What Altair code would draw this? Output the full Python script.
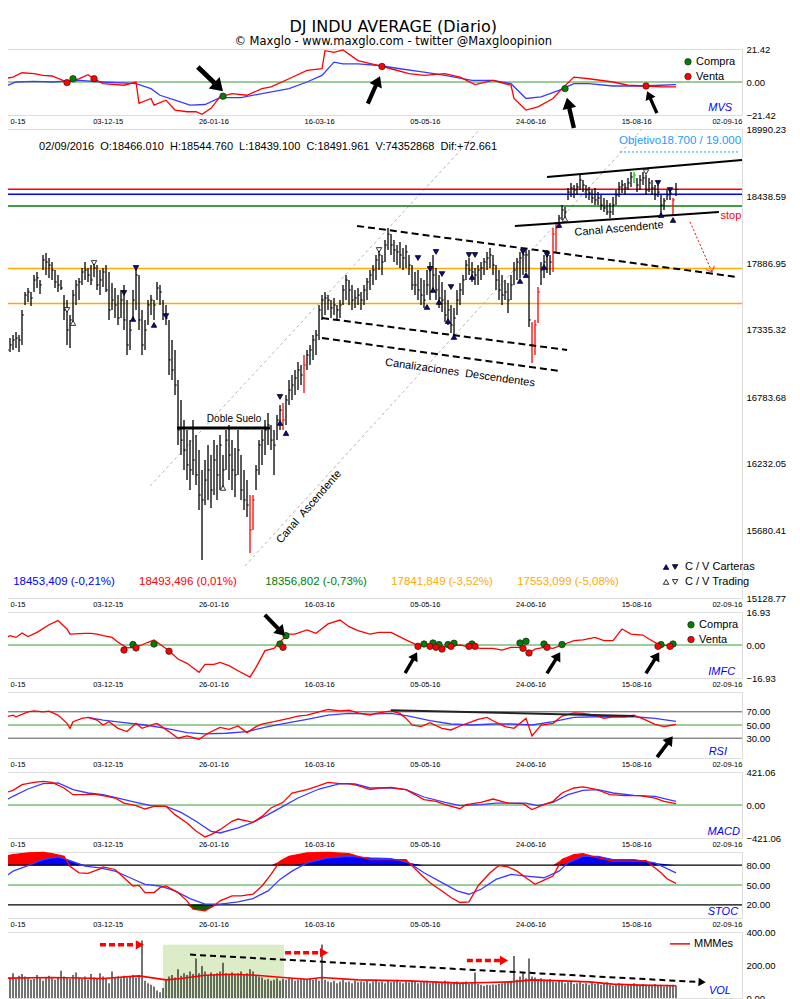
import altair as alt
import pandas as pd

FONT = "Liberation Sans"
TFONT = "DejaVu Sans"

# ---------------- axis labels ----------------
DATE_LABELS = ["0-15", "03-12-15", "26-01-16", "16-03-16", "05-05-16", "24-06-16", "15-08-16", "02-09-16"]
TICK_POS = [2.0, 34.57, 69.8, 105.03, 140.27, 175.5, 210.73, 245.97]
PRICE_TICKS = [15128.77, 15680.41, 16232.05, 16783.68, 17335.32, 17886.95, 18438.59, 18990.23]

# ---------------- daily price bars ----------------
HIGH = [
    17335, 17253, 17269, 17294, 17319, 17294, 17500, 17648, 17681, 17648,
    17788, 17813, 17747, 17953, 17969, 17928, 17895, 17829, 17788, 17747,
    17623, 17582, 17459, 17665, 17747, 17764, 17846, 17895, 17846, 17870,
    17887, 17870, 17829, 17846, 17870, 17813, 17722, 17681, 17623, 17665,
    17706, 17582, 17418, 17665, 17846, 17788, 17500, 17418, 17582, 17623,
    17582, 17731, 17706, 17582, 17541, 17418, 17253, 17171, 16924, 16759,
    16594, 16512, 16429, 16594, 16471, 16347, 16183, 16265, 16388, 16306,
    16429, 16388, 16471, 16306, 16512, 16553, 16429, 16364, 16512, 16306,
    16183, 16100, 15977, 15977, 16224, 16429, 16512, 16594, 16652, 16553,
    16512, 16635, 16718, 16734, 16800, 16924, 16965, 17006, 17072, 17047,
    17129, 17171, 17212, 17294, 17335, 17541, 17623, 17648, 17623, 17582,
    17599, 17541, 17582, 17706, 17788, 17747, 17706, 17665, 17681, 17648,
    17706, 17764, 17829, 17870, 17953, 18010, 17953, 18076, 18175, 18125,
    18076, 18035, 18060, 18010, 18035, 17953, 17870, 17813, 17829, 17764,
    17747, 17829, 17895, 17953, 17846, 17788, 17731, 17665, 17582, 17541,
    17517, 17665, 17722, 17788, 17912, 17928, 17895, 17846, 17870, 17895,
    17928, 17978, 18010, 17953, 17870, 17829, 17788, 17747, 17722, 17788,
    17895, 17928, 17978, 17994, 18010, 17994, 17401, 17418, 17689, 17895,
    17953, 17994, 17953, 18175, 18224, 18282, 18364, 18348, 18505, 18546,
    18529, 18546, 18611, 18570, 18529, 18513, 18488, 18505, 18471, 18447,
    18422, 18406, 18381, 18430, 18488, 18554, 18570, 18546, 18587, 18636,
    18636, 18587, 18611, 18636, 18611, 18587, 18570, 18529, 18529, 18447,
    18422, 18488, 18488, 18422, 18545,
]
LOW = [
    16924, 17006, 17154, 17171, 17187, 17154, 17212, 17541, 17566, 17533,
    17648, 17681, 17632, 17829, 17788, 17764, 17747, 17681, 17648, 17665,
    17418, 17212, 17187, 17377, 17541, 17582, 17706, 17747, 17731, 17706,
    17772, 17665, 17623, 17689, 17648, 17418, 17500, 17434, 17377, 17434,
    17335, 17129, 17171, 17418, 17500, 17335, 17129, 17171, 17377, 17459,
    17418, 17582, 17541, 17418, 17377, 16965, 16924, 16800, 16388, 16306,
    16183, 16100, 16018, 16142, 16059, 15853, 15442, 15894, 15936, 15870,
    15977, 15936, 16018, 16018, 16183, 16100, 16018, 15960, 16142, 15936,
    15853, 15796, 15500, 15689, 16018, 16142, 16224, 16306, 16388, 16347,
    16142, 16429, 16512, 16512, 16553, 16718, 16759, 16800, 16841, 16882,
    16817, 17006, 17047, 17089, 17129, 17253, 17418, 17459, 17500, 17434,
    17459, 17418, 17434, 17541, 17582, 17541, 17500, 17517, 17541, 17500,
    17541, 17582, 17665, 17706, 17747, 17829, 17788, 17895, 17994, 17953,
    17895, 17870, 17846, 17829, 17846, 17788, 17665, 17623, 17582, 17541,
    17517, 17623, 17582, 17665, 17582, 17517, 17484, 17401, 17377, 17311,
    17278, 17459, 17541, 17623, 17747, 17788, 17731, 17706, 17706, 17747,
    17788, 17829, 17846, 17788, 17665, 17582, 17541, 17582, 17475, 17582,
    17706, 17747, 17764, 17788, 17813, 17360, 17064, 17129, 17393, 17706,
    17764, 17805, 17788, 17813, 17978, 18175, 18241, 18241, 18406, 18430,
    18422, 18447, 18488, 18471, 18422, 18406, 18381, 18364, 18364, 18323,
    18307, 18282, 18257, 18282, 18364, 18430, 18463, 18447, 18488, 18513,
    18546, 18471, 18488, 18529, 18447, 18471, 18447, 18406, 18430, 18282,
    18323, 18406, 18406, 18282, 18439,
]
CLOSE = [
    17047, 17171, 17212, 17253, 17269, 17253, 17459, 17623, 17648, 17599,
    17747, 17764, 17706, 17912, 17895, 17870, 17829, 17731, 17706, 17681,
    17500, 17335, 17418, 17623, 17706, 17731, 17813, 17829, 17788, 17747,
    17846, 17706, 17747, 17813, 17665, 17500, 17582, 17541, 17434, 17582,
    17418, 17212, 17335, 17582, 17788, 17418, 17212, 17335, 17541, 17582,
    17541, 17681, 17648, 17459, 17434, 17089, 17006, 16882, 16512, 16429,
    16347, 16224, 16183, 16265, 16142, 15977, 15936, 16100, 16183, 16018,
    16265, 16142, 16388, 16183, 16429, 16306, 16183, 16142, 16347, 16018,
    15936, 15894, 15689, 15936, 16183, 16388, 16429, 16512, 16553, 16429,
    16388, 16594, 16676, 16594, 16759, 16841, 16882, 16940, 17006, 16965,
    17047, 17129, 17171, 17253, 17294, 17500, 17582, 17599, 17582, 17517,
    17541, 17500, 17541, 17665, 17747, 17665, 17582, 17599, 17623, 17582,
    17665, 17731, 17788, 17829, 17912, 17953, 17895, 18035, 18125, 18035,
    17994, 17978, 17953, 17928, 17978, 17870, 17706, 17706, 17665, 17623,
    17582, 17706, 17829, 17788, 17665, 17599, 17582, 17459, 17500, 17377,
    17434, 17582, 17665, 17747, 17870, 17829, 17813, 17788, 17829, 17846,
    17895, 17928, 17953, 17870, 17747, 17665, 17623, 17648, 17582, 17706,
    17829, 17895, 17928, 17953, 17953, 17418, 17212, 17377, 17648, 17829,
    17895, 17953, 17895, 18125, 18175, 18257, 18323, 18307, 18471, 18505,
    18488, 18513, 18570, 18529, 18488, 18463, 18422, 18406, 18422, 18364,
    18340, 18307, 18307, 18364, 18447, 18513, 18529, 18505, 18546, 18595,
    18611, 18529, 18570, 18587, 18488, 18546, 18505, 18447, 18471, 18364,
    18398, 18447, 18463, 18406, 18492,
]
RED_BARS = [82, 83, 93, 100, 176, 177, 178, 183, 184, 223]
GREEN_BARS = [210]

LEVELS = [18493.496, 18453.409, 18356.802, 17841.849, 17553.099]
LEVEL_COLORS = ["#ff0000", "#0000ff", "#008000", "#ffaa00", "#ffaa00"]
LEVEL_TEXT = ["18453,409 (-0,21%)", "18493,496 (0,01%)", "18356,802 (-0,73%)",
              "17841,849 (-3,52%)", "17553,099 (-5,08%)"]
LEVEL_TEXT_COLORS = ["#0000ff", "#ff0000", "#008000", "#ffaa00", "#ffaa00"]
LEVEL_TEXT_X = [20, 61.3, 104, 146, 188]

CART_UP = [(43, 17426), (50, 17377), (92, 16570), (94, 16487), (141, 17525), (143, 17665),
           (145, 17566), (148, 17409), (150, 17278), (156, 17772), (172, 17739), (174, 17788),
           (180, 17854), (185, 18200), (219, 18282), (223, 18241), (220.7, 15384)]
CART_DN = [(40, 17640), (44, 17846), (54, 17450), (92, 16784), (138, 17928), (142, 17838),
           (144, 17978), (146, 17796), (149, 17689), (155, 17953), (157, 17953), (173, 17978),
           (181, 17953), (218, 18546), (222, 18488), (223.7, 15384)]
TRAD_UP = [(23, 17393), (73, 16035), (187, 18249), (220.7, 15261)]
TRAD_DN = [(21, 17500), (30, 17887), (125, 17994), (214, 18636), (223.7, 15261)]

# trend lines (x1, y1, x2, y2)
GRAY_LINES = [(48.7, 16051, 158.7, 18990), (80.3, 15392, 212.7, 18990)]
DASH_LINES = [(117.7, 18192, 244.3, 17772), (106, 17434, 187.7, 17171), (106, 17269, 185, 16998)]
SOLID_LINES = [(181, 18595, 246, 18735), (170.3, 18192, 238.3, 18307), (57.7, 16529, 88.7, 16529)]
SOLID_WIDTH = [2, 2, 3]

# ---------------- indicators ----------------
MVS_RED_I = [0, 3, 6, 10, 13, 16, 21, 25, 28, 30, 33, 40, 44, 45, 49, 50, 54, 57, 61, 64,
             66, 69, 72, 76, 81, 86, 89, 95, 101, 106, 107, 110, 113, 118, 125, 129, 135, 140, 147, 152,
             157, 163, 169, 170, 174, 178, 183, 186, 190, 195, 203, 208, 214, 219, 224]
MVS_RED = [2.1, 3.2, 6.0, 5.4, 4.3, 3.9, 0.0, 2.1, 4.7, 2.1, -1.1, -2.1, 0.0, -13.9, -10.7, -15.0, -11.8, -18.2, -19.3, -19.3,
           -21.0, -17.1, -9.6, -7.5, -8.6, -4.3, -3.2, 2.1, 7.5, 8.6, 20.3, 19.3, 20.8, 13.9, 10.7, 8.6, 5.4, 4.3, 5.4, 3.2,
           -1.7, 1.1, -2.1, -10.7, -18.2, -16.1, -10.7, -4.3, 3.2, 2.1, 0.0, -2.1, -2.6, -3.2, -3.2]
MVS_BLUE_I = [0, 4, 10, 16, 25, 33, 44, 49, 52, 57, 62, 67, 72, 79, 86, 95, 101, 106, 110, 113,
              118, 125, 132, 140, 147, 156, 163, 169, 174, 179, 185, 190, 195, 203, 212, 219, 224]
MVS_BLUE = [-3.2, 0.0, 0.4, 0.0, 1.1, 0.0, -1.1, -4.3, -8.6, -11.8, -15.0, -14.6, -10.1, -10.1, -7.5, -4.3, 0.0, 4.3, 12.9, 11.8,
            11.8, 10.7, 8.6, 6.4, 4.3, 1.1, 1.1, -1.1, -10.7, -9.6, -5.4, -1.1, -1.1, -2.6, -2.6, -2.1, -1.7]
MVS_BUY = [(23, 2.1), (73, -9.2), (187, -4.3)]
MVS_SELL = [(21, -0.4), (30, 2.1), (126, 10.1), (214, -2.6)]

IMFC_I = [0, 2, 4, 6, 8, 11, 15, 18, 21, 22, 27, 29, 31, 33, 36, 38, 41, 44, 48, 50,
          55, 58, 61, 65, 67, 70, 72, 75, 78, 82, 84, 87, 90, 93, 95, 97, 101, 104, 108, 112,
          115, 118, 122, 125, 129, 134, 137, 140, 146, 149, 152, 156, 159, 163, 166, 169, 173, 175, 177, 180,
          183, 186, 190, 193, 197, 200, 203, 206, 209, 213, 215, 218, 220, 224]
IMFC = [3.1, 4.8, 3.9, 6.2, 4.3, 6.5, 10.4, 12.5, 8.2, 5.6, 6.0, 6.0, 5.6, 4.8, 3.9, 1.4, -1.5, -1.2, 1.4, 2.6,
        -2.9, -7.2, -9.4, -14.0, -9.9, -9.9, -8.9, -10.6, -13.2, -16.5, -11.5, -2.9, -1.7, 3.1, 5.6, 5.6, 7.7, 6.0, 10.8, 12.8,
        9.4, 7.4, 5.6, 6.5, 6.5, 2.6, 0.5, -0.3, -1.2, -0.3, 0.0, -1.2, -1.7, -1.7, -2.6, -1.2, -1.2, -4.1, -2.1, -1.2,
        -1.7, 0.0, 2.2, 2.6, 3.9, 2.2, 2.2, 8.2, 5.6, 5.1, 3.1, 0.5, -0.3, 0.5]
IMFC_BUY = [(43, 0.2), (50, 0.5), (92, 0.5), (94, 4.8), (140, 0.5), (143, 1.0), (145, 0.2), (148, 0.2),
            (150, 0.9), (156, 0.5), (172, 1.0), (174, 1.9), (180, 0.5), (186, 0.2), (219, 0.2), (223, 0.5)]
IMFC_SELL = [(40, -2.6), (44, -1.5), (55, -3.2), (93, -1.2), (138, -0.7), (142, -0.7), (144, -1.2), (146, -2.1),
             (149, -0.7), (155, -0.7), (157, -0.7), (173, -1.7), (175, -4.1), (181, -1.2), (218, -0.7), (222, -0.7)]

RSI_I = [0, 3, 4, 8, 10, 13, 15, 18, 21, 22, 23, 26, 28, 31, 33, 35, 38, 41, 44, 46,
         50, 51, 55, 58, 61, 65, 68, 72, 75, 78, 81, 84, 86, 90, 95, 98, 101, 105, 108, 112,
         115, 118, 122, 124, 129, 132, 134, 136, 139, 142, 146, 149, 152, 156, 158, 161, 163, 167, 170, 174,
         176, 179, 183, 186, 190, 193, 197, 200, 203, 207, 210, 214, 217, 220, 223, 224]
RSI = [61.5, 65, 62.5, 70, 71.5, 70, 71, 65, 52.5, 45, 55, 60, 61.5, 57.5, 50, 55, 45, 40, 52.5, 45,
       51.5, 52.5, 40, 30, 33.5, 28.5, 37.5, 46.5, 43.5, 48.5, 38.5, 47.5, 51.5, 55, 60, 63.5, 65, 70, 73.5, 71.5,
       72.5, 68.5, 65, 67.5, 71.5, 67.5, 60, 50, 47.5, 53.5, 45, 42.5, 48.5, 55, 58.5, 61.5, 56.5, 47.5, 45, 60,
       33.5, 50, 52.5, 63.5, 68.5, 67.5, 65, 60, 62.5, 62.5, 65, 57.5, 51, 47.5, 50, 51.5]
RSI_AVG_I = [28, 33, 40, 47, 54, 61, 67, 74, 81, 88, 95, 101, 108, 115, 122, 129, 135, 142, 149, 156,
             163, 169, 176, 183, 190, 197, 203, 210, 217, 224]
RSI_AVG = [61.5, 57.5, 53.5, 50, 45, 38.5, 36.5, 37.5, 40, 47.5, 53.5, 58.5, 65, 67.5, 66.5, 67.5, 63.5, 56.5, 51.5, 50,
           51.5, 51.5, 50, 55, 61.5, 62.5, 62.5, 62.5, 60, 55.5]
RSI_TREND = [(129, 72.5, 210, 63.5)]

MACD_I = [0, 3, 6, 10, 13, 16, 20, 23, 27, 30, 33, 37, 40, 44, 47, 50, 54, 57, 61, 64,
          67, 69, 72, 76, 78, 83, 86, 89, 93, 96, 101, 105, 108, 112, 115, 118, 122, 125, 129, 134,
          137, 140, 144, 147, 152, 154, 159, 163, 168, 173, 176, 180, 183, 186, 190, 193, 197, 202, 207, 212,
          217, 220, 224]
MACD = [153, 187, 259, 289, 302, 289, 217, 132, 132, 140, 119, 89, 25, -8, -51, -17, -17, -123, -230, -332,
        -408, -378, -315, -208, -179, -221, -145, -38, 34, 153, 196, 247, 289, 272, 272, 247, 196, 217, 225, 196,
        132, 68, 47, 4, -47, 4, 34, 76, 25, 17, -59, 4, 47, 153, 217, 230, 204, 132, 119, 119,
        89, 47, 17]
MACD_SIG_I = [0, 3, 8, 13, 18, 23, 28, 33, 38, 44, 49, 54, 59, 64, 69, 72, 78, 83, 88, 93,
              98, 105, 112, 117, 122, 129, 134, 140, 147, 152, 159, 164, 169, 174, 178, 183, 188, 193, 198, 203,
              210, 217, 224]
MACD_SIG = [47, 111, 204, 272, 281, 196, 153, 132, 89, 34, -8, -17, -94, -208, -336, -357, -293, -221, -123, -17,
            89, 204, 272, 268, 217, 217, 196, 102, 34, -8, 4, 25, 25, 25, -8, 34, 132, 187, 196, 153,
            123, 111, 47]

STOC_K_I = [0, 3, 8, 13, 16, 20, 22, 25, 28, 32, 33, 37, 40, 43, 45, 47, 50, 52, 54, 55,
            58, 61, 63, 67, 70, 72, 76, 79, 83, 86, 89, 92, 95, 101, 108, 115, 118, 122, 129, 134,
            135, 139, 142, 146, 149, 152, 155, 158, 162, 165, 168, 171, 174, 177, 180, 183, 186, 190, 193, 198,
            203, 210, 214, 216, 219, 221, 224]
STOC_K = [93.5, 96, 98.5, 99.5, 97.5, 93.5, 78.5, 68.5, 67.5, 74.5, 77.5, 73.5, 61, 48.5, 49.5, 38.5, 38.5, 46, 48.5, 46,
          38.5, 26, 13.5, 11, 18.5, 26, 33.5, 33.5, 36, 48.5, 66, 86, 93.5, 98.5, 99.5, 97.5, 93.5, 88.5, 88.5, 88.5,
          83.5, 66, 53.5, 41, 31, 23.5, 24.5, 48.5, 68.5, 79.5, 77.5, 71, 61, 51, 57.5, 63.5, 88.5, 96, 97.5, 91,
          86, 86, 87, 79.5, 68.5, 59.5, 52.5]
STOC_D_I = [0, 3, 8, 13, 18, 21, 27, 32, 37, 42, 47, 52, 57, 62, 67, 72, 78, 83, 88, 92,
            96, 101, 108, 115, 122, 129, 135, 140, 146, 151, 155, 159, 164, 169, 174, 180, 185, 188, 193, 198,
            203, 210, 217, 224]
STOC_D = [61, 71, 79.5, 88.5, 92.5, 88.5, 78.5, 76, 71, 61, 51, 48.5, 41, 29.5, 21, 21, 24.5, 29.5, 41, 58.5,
          71, 83.5, 91, 93.5, 91, 90, 83.5, 68.5, 53.5, 41, 36, 43.5, 58.5, 66, 63.5, 61, 71, 83.5, 93.5, 93.5,
          88.5, 88.5, 83.5, 68.5]

VOLUME = [
    125, 140, 120, 150, 115, 135, 145, 130, 120, 110, 115, 140, 120, 105, 125,
    135, 120, 110, 125, 165, 130, 120, 115, 140, 155, 125, 120, 130, 110, 145,
    125, 115, 150, 130, 120, 90, 160, 125, 130, 120, 135, 125, 130, 140, 125,
    130, 348, 105, 90, 80, 70, 45, 35, 60, 110, 130, 140, 125, 174, 135,
    150, 140, 160, 145, 240, 150, 194, 160, 140, 155, 145, 150, 160, 214, 150,
    145, 155, 140, 150, 160, 145, 150, 174, 160, 140, 130, 125, 110, 115, 105,
    110, 120, 105, 115, 110, 120, 115, 105, 110, 120, 115, 110, 120, 110, 115,
    105, 324, 110, 100, 95, 105, 90, 100, 110, 95, 100, 90, 105, 95, 100,
    95, 105, 90, 100, 110, 95, 100, 90, 105, 95, 100, 110, 95, 90, 100,
    95, 105, 100, 90, 95, 100, 105, 90, 95, 100, 90, 95, 105, 100, 90,
    95, 100, 90, 95, 100, 85, 90, 154, 85, 80, 75, 80, 78, 82, 80,
    85, 90, 95, 100, 105, 254, 110, 130, 150, 120, 240, 130, 125, 115, 120,
    110, 105, 115, 100, 95, 105, 100, 90, 95, 100, 85, 90, 95, 85, 90,
    80, 95, 85, 90, 80, 85, 95, 80, 75, 85, 90, 80, 75, 85, 80,
    90, 80, 75, 85, 80, 75, 80, 85, 75, 80, 70, 80, 75, 80, 75,
]
VOL_MM_I = [0, 16, 33, 45, 54, 59, 67, 76, 84, 93, 101, 106, 118, 135, 152, 161, 169, 176, 186, 195, 203, 212, 224]
VOL_MM = [120, 124, 118, 134, 110, 118, 138, 144, 138, 124, 114, 124, 110, 104, 90, 94, 98, 110, 104, 98, 84, 78, 74]
VOL_RED_ARROWS = [(32, 45.3, 322), (93.7, 106.7, 275), (154.3, 166.7, 227)]
VOL_TREND = [(62, 263, 232.7, 96)]
VOL_ZONE = [(53, 93.3, 0, 322)]

# arrows: (x, y, angle, size)
MVS_ARROWS = [(68.8, 1.9, 134, 1225), (123.3, -5.1, 24, 900), (188.8, -20.1, 347, 961), (216, -13.1, 336, 576)]
IMFC_ARROWS = [(90.3, 10.1, 136, 841), (135.7, -9.1, 30, 576), (183.2, -9.1, 32, 625), (216.2, -9.1, 32, 625)]
RSI_ARROWS = [(220.3, 17.1, 37, 676)]

# ---------------- helpers ----------------
W = 740
XDOM = [-0.67, 246.0]
ARROW = "M0,-1L0.45,-0.3L0.14,-0.3L0.14,1L-0.14,1L-0.14,-0.3L-0.45,-0.3Z"


def x_axis(show=True):
    expr = "''"
    for p, lab in reversed(list(zip(TICK_POS, DATE_LABELS))):
        expr = f"abs(datum.value - ({p})) < 1 ? '{lab}' : {expr}"
    return alt.Axis(values=TICK_POS, labelExpr=expr, grid=False, ticks=False, domain=False,
                    labelFontSize=7.5, labelFont=FONT, labelPadding=2, title=None,
                    labelFlush=20, labelOverlap=False, labels=show, orient="bottom",
                    labelColor="black")


def make_x(show=True):
    ax = x_axis(show)

    def X(f):
        return alt.X(f"{f}:Q", scale=alt.Scale(domain=XDOM, nice=False, zero=False), axis=ax)
    return X


def make_y(dom, vals):
    ax = alt.Axis(orient="right", values=vals, format=".2f", grid=False, ticks=False, domain=False,
                  labelFontSize=9.5, labelFont=FONT, labelPadding=4, title=None, labelOverlap=False,
                  labelColor="black")

    def Y(f):
        return alt.Y(f"{f}:Q", scale=alt.Scale(domain=dom, nice=False, zero=False), axis=ax)
    return Y


def xy(pairs):
    return pd.DataFrame({"x": [p[0] for p in pairs], "y": [p[1] for p in pairs]})


def seg(rows):
    return pd.DataFrame({"x1": [r[0] for r in rows], "y1": [r[1] for r in rows],
                         "x2": [r[2] for r in rows], "y2": [r[3] for r in rows]})


def hrule(Y, v, color, width=1.0, dash=None):
    kw = dict(color=color, strokeWidth=width)
    if dash:
        kw["strokeDash"] = dash
    return alt.Chart(pd.DataFrame({"v": [v]})).mark_rule(**kw).encode(y=Y("v"))


def seg_layer(X, Y, rows, **kw):
    return alt.Chart(seg(rows)).mark_rule(**kw).encode(x=X("x1"), x2=alt.X2("x2:Q"), y=Y("y1"), y2=alt.Y2("y2:Q"))


def line(X, Y, xs, ys, color, width=1.3):
    return alt.Chart(pd.DataFrame({"x": xs, "y": ys})).mark_line(color=color, strokeWidth=width).encode(
        x=X("x"), y=Y("y"))


def dots(X, Y, pairs, color):
    return alt.Chart(xy(pairs)).mark_circle(size=42, color=color, opacity=1, stroke="#222222",
                                            strokeWidth=0.7).encode(x=X("x"), y=Y("y"))


def arrows(X, Y, rows, color="black"):
    df = pd.DataFrame({"x": [r[0] for r in rows], "y": [r[1] for r in rows],
                       "a": [r[2] for r in rows], "s": [r[3] for r in rows]})
    return alt.Chart(df).mark_point(shape=ARROW, filled=True, color=color, opacity=1).encode(
        x=X("x"), y=Y("y"), angle=alt.Angle("a:Q", scale=None), size=alt.Size("s:Q", scale=None))


def text(X, Y, t, x, y, color="black", size=11, align="center", angle=0, style="normal", font=FONT):
    df = pd.DataFrame({"t": [t], "x": [x], "y": [y]})
    return alt.Chart(df).mark_text(align=align, color=color, fontSize=size, angle=angle,
                                   fontStyle=style, font=font).encode(x=X("x"), y=Y("y"), text="t:N")


def legend(X, Y, xi, yb, ys):
    return [dots(X, Y, [(xi, yb)], "#008000"), dots(X, Y, [(xi, ys)], "#ff0000"),
            text(X, Y, "Compra", xi + 2.7, yb, align="left", size=11),
            text(X, Y, "Venta", xi + 2.7, ys, align="left", size=11)]


# ---------------- MVS panel ----------------
X = make_x()
Ym = make_y([-21.42, 21.42], [-21.42, 0, 21.42])
mvs = alt.layer(
    hrule(Ym, 0, "#3a9a3a"),
    line(X, Ym, MVS_BLUE_I, MVS_BLUE, "#3b3bff"),
    line(X, Ym, MVS_RED_I, MVS_RED, "#ff0000"),
    dots(X, Ym, MVS_BUY, "#008000"),
    dots(X, Ym, MVS_SELL, "#ff0000"),
    *legend(X, Ym, 228, 13.1, 3.5),
    text(X, Ym, "MVS", 242.7, -16.9, color="#0000ff", align="right", style="italic"),
    arrows(X, Ym, MVS_ARROWS),
).properties(width=W, height=66)

# ---------------- main price panel ----------------
Yp = make_y([15128.77, 18990.23], PRICE_TICKS)
bars = pd.DataFrame({"i": list(range(len(HIGH))), "h": HIGH, "l": LOW, "c": CLOSE})
bars["col"] = ["red" if k in RED_BARS else ("#00cc00" if k in GREEN_BARS else "black") for k in bars["i"]]
levels = pd.DataFrame({"v": LEVELS, "col": LEVEL_COLORS})
lvl_txt = pd.DataFrame({"t": LEVEL_TEXT, "x": LEVEL_TEXT_X, "y": [15261] * 5, "col": LEVEL_TEXT_COLORS})


def tri(pairs, shape, fill):
    return alt.Chart(xy(pairs)).mark_point(shape=shape, filled=True, fill=fill, stroke="black",
                                           strokeWidth=0.8, size=30, opacity=1).encode(x=X("x"), y=Yp("y"))


solid = seg(SOLID_LINES)
solid["w"] = SOLID_WIDTH
INFO = "\u00a0\u00a0".join(["02/09/2016", "O:18466.010", "H:18544.760", "L:18439.100",
                            "C:18491.961", "V:74352868", "Dif:+72.661"])

main = alt.layer(
    seg_layer(X, Yp, GRAY_LINES, color="#b5b5b5", strokeWidth=1, strokeDash=[3, 3]),
    alt.Chart(levels).mark_rule(strokeWidth=1.5).encode(y=Yp("v"), color=alt.Color("col:N", scale=None)),
    alt.Chart(bars).mark_rule(strokeWidth=1.3).encode(
        x=X("i"), y=Yp("l"), y2=alt.Y2("h:Q"), color=alt.Color("col:N", scale=None)),
    alt.Chart(bars).transform_calculate(ix="datum.i + 0.6").mark_rule(strokeWidth=1).encode(
        x=X("i"), x2=alt.X2("ix:Q"), y=Yp("c"), color=alt.Color("col:N", scale=None)),
    seg_layer(X, Yp, DASH_LINES, color="black", strokeWidth=2, strokeDash=[7, 4]),
    alt.Chart(solid).mark_rule(color="black").encode(
        x=X("x1"), x2=alt.X2("x2:Q"), y=Yp("y1"), y2=alt.Y2("y2:Q"),
        strokeWidth=alt.StrokeWidth("w:Q", scale=None)),
    tri(CART_UP, "triangle-up", "#0a0a9a"),
    tri(CART_DN, "triangle-down", "#0a0a9a"),
    tri(TRAD_UP, "triangle-up", "white"),
    tri(TRAD_DN, "triangle-down", "white"),
    alt.Chart(lvl_txt).mark_text(fontSize=11.5, font=FONT).encode(
        x=X("x"), y=Yp("y"), text="t:N", color=alt.Color("col:N", scale=None)),
    text(X, Yp, INFO, 11.7, 18842, size=11, align="left"),
    text(X, Yp, "Objetivo18.700 / 19.000", 205, 18891, color="#1e9bff", size=11.5, align="left"),
    seg_layer(X, Yp, [(205.3, 18801, 244.7, 18801)], color="#1e9bff", strokeWidth=1, strokeDash=[2, 2]),
    text(X, Yp, "Canal Ascendente", 205, 18167, angle=355),
    text(X, Yp, "stop", 242.3, 18274, color="#ff0000"),
    seg_layer(X, Yp, [(228.7, 18225, 236, 17813)], color="#ff0000", strokeWidth=1, strokeDash=[2, 2]),
    alt.Chart(xy([(236, 17813)])).mark_point(shape="M-1,-1L0,0L1,-1", filled=False, color="#ff0000",
                                             strokeWidth=1, size=90, angle=336).encode(x=X("x"), y=Yp("y")),
    text(X, Yp, "Canalizaciones\u00a0\u00a0Descendentes", 152, 16981, angle=8),
    text(X, Yp, "Doble Suelo", 76.7, 16603, size=10),
    text(X, Yp, "Canal\u00a0\u00a0Ascendente", 101.7, 15878, angle=311),
    text(X, Yp, "C / V Carteras", 227, 15384, align="left"),
    text(X, Yp, "C / V Trading", 227, 15261, align="left"),
).properties(width=W, height=469)

# ---------------- IMFC panel ----------------
Yi = make_y([-16.93, 16.93], [-16.93, 0, 16.93])
imfc = alt.layer(
    hrule(Yi, 0, "#3a9a3a"),
    line(X, Yi, IMFC_I, IMFC, "#ff0000"),
    dots(X, Yi, IMFC_BUY, "#008000"),
    dots(X, Yi, IMFC_SELL, "#ff0000"),
    *legend(X, Yi, 229, 10.4, 2.8),
    text(X, Yi, "IMFC", 243.7, -13.9, color="#0000ff", align="right", style="italic"),
    arrows(X, Yi, IMFC_ARROWS),
).properties(width=W, height=66)

# ---------------- RSI panel ----------------
Yr = make_y([0, 100], [30, 50, 70])
rsi = alt.layer(
    hrule(Yr, 70, "#555555"),
    hrule(Yr, 50, "#3a9a3a"),
    hrule(Yr, 30, "#555555"),
    line(X, Yr, RSI_AVG_I, RSI_AVG, "#3b3bff"),
    line(X, Yr, RSI_I, RSI, "#ff0000"),
    seg_layer(X, Yr, RSI_TREND, color="#222222", strokeWidth=2),
    text(X, Yr, "RSI", 241, 9, color="#0000ff", align="right", style="italic"),
    arrows(X, Yr, RSI_ARROWS),
).properties(width=W, height=66)

# ---------------- MACD panel ----------------
Yc = make_y([-421.06, 421.06], [-421.06, 0, 421.06])
macd = alt.layer(
    hrule(Yc, 0, "#3a9a3a"),
    line(X, Yc, MACD_SIG_I, MACD_SIG, "#3b3bff"),
    line(X, Yc, MACD_I, MACD, "#ff0000"),
    text(X, Yc, "MACD", 245.3, -344, color="#0000ff", align="right", style="italic"),
).properties(width=W, height=66)

# ---------------- STOC panel ----------------
Ys = make_y([0, 100], [20, 50, 80])
kdf = pd.DataFrame({"x": STOC_K_I, "y": STOC_K})
ddf = pd.DataFrame({"x": STOC_D_I, "y": STOC_D})
stoc = alt.layer(
    alt.Chart(kdf).transform_calculate(top="max(datum.y, 80)", base="80").mark_area(
        color="#ff0000", opacity=1).encode(x=X("x"), y=Ys("top"), y2=alt.Y2("base:Q")),
    alt.Chart(ddf).transform_calculate(top="max(datum.y, 80)", base="80").mark_area(
        color="#0000ff", opacity=1).encode(x=X("x"), y=Ys("top"), y2=alt.Y2("base:Q")),
    alt.Chart(kdf).transform_calculate(bot="min(datum.y, 20)", base="20").mark_area(
        color="#006400", opacity=1).encode(x=X("x"), y=Ys("bot"), y2=alt.Y2("base:Q")),
    hrule(Ys, 80, "black", 1.3),
    hrule(Ys, 50, "#3a9a3a"),
    hrule(Ys, 20, "black", 1.3),
    line(X, Ys, STOC_D_I, STOC_D, "#3b3bff"),
    line(X, Ys, STOC_K_I, STOC_K, "#ff0000"),
    text(X, Ys, "STOC", 244.7, 9, color="#0000ff", align="right", style="italic"),
).properties(width=W, height=66)

# ---------------- VOL panel ----------------
Xv = make_x(show=False)
Yv = make_y([0, 400], [0, 200, 400])
vol = pd.DataFrame({"i": list(range(len(VOLUME))), "v": VOLUME})
red_arr = pd.DataFrame({"x1": [r[0] for r in VOL_RED_ARROWS], "x2": [r[1] for r in VOL_RED_ARROWS],
                        "y": [r[2] for r in VOL_RED_ARROWS]})
zone = pd.DataFrame({"x1": [VOL_ZONE[0][0]], "x2": [VOL_ZONE[0][1]],
                     "y1": [VOL_ZONE[0][2]], "y2": [VOL_ZONE[0][3]]})
volp = alt.layer(
    alt.Chart(zone).mark_rect(color="#cfe6b4", opacity=0.75).encode(
        x=Xv("x1"), x2=alt.X2("x2:Q"), y=Yv("y1"), y2=alt.Y2("y2:Q")),
    alt.Chart(vol).transform_calculate(z="0").mark_rule(color="black", strokeWidth=1.1).encode(
        x=Xv("i"), y=Yv("z"), y2=alt.Y2("v:Q")),
    line(Xv, Yv, VOL_MM_I, VOL_MM, "#ff0000", 1.6),
    alt.Chart(red_arr).mark_rule(color="#ff0000", strokeWidth=3.5, strokeDash=[6, 3]).encode(
        x=Xv("x1"), x2=alt.X2("x2:Q"), y=Yv("y")),
    alt.Chart(red_arr).mark_point(shape="triangle-right", filled=True, color="#ff0000", size=90,
                                  opacity=1).encode(x=Xv("x2"), y=Yv("y")),
    seg_layer(Xv, Yv, VOL_TREND, color="black", strokeWidth=2, strokeDash=[6, 4]),
    alt.Chart(xy([(VOL_TREND[0][2], VOL_TREND[0][3])])).mark_point(
        shape="triangle-right", filled=True, color="black", size=70, opacity=1, angle=3).encode(
        x=Xv("x"), y=Yv("y")),
    seg_layer(Xv, Yv, [(222, 328, 228.7, 328)], color="#ff0000", strokeWidth=1.5),
    text(Xv, Yv, "MMMes", 230, 328, align="left"),
    text(Xv, Yv, "VOL", 242.3, 42, color="#0000ff", align="right", style="italic"),
).properties(width=W, height=66)

chart = alt.vconcat(mvs, main, imfc, rsi, macd, stoc, volp, spacing=14, bounds="flush").properties(
    title=alt.TitleParams(
        text="DJ INDU AVERAGE (Diario)",
        subtitle="© Maxglo - www.maxglo.com - twitter @Maxgloopinion",
        font=TFONT, fontSize=16, fontWeight="normal", color="black",
        subtitleFont=TFONT, subtitleFontSize=11.5, subtitleColor="black",
        anchor="middle", frame="bounds", offset=-4, subtitlePadding=1.5),
    padding={"left": -8, "top": 10, "right": 2, "bottom": 0},
    background="white",
).configure_view(stroke="black", strokeWidth=1.5).configure(font=FONT)

chart.save("out.html", embed_options={"renderer": "svg", "actions": False})
